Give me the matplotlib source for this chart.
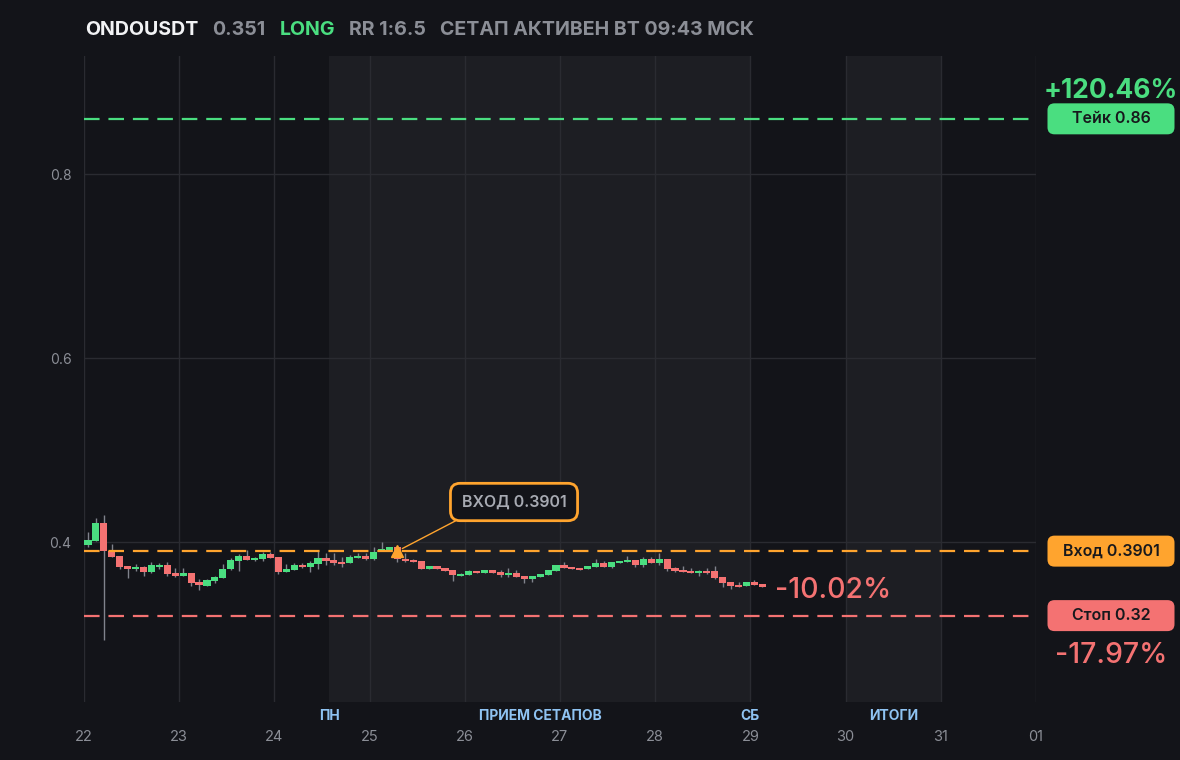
import matplotlib
matplotlib.use("Agg")
import matplotlib.pyplot as plt
from matplotlib.patches import FancyBboxPatch, Rectangle
from matplotlib.transforms import IdentityTransform, blended_transform_factory

# ---------------- data ----------------
symbol = "ONDOUSDT"
side = "LONG"
rr_text = "RR 1:6.5"
status_text = "СЕТАП АКТИВЕН ВТ 09:43 МСК"

first_day = 22
candle_hours = 2

day_ticks = [22, 23, 24, 25, 26, 27, 28, 29, 30, 31, 32]
day_labels = ["22", "23", "24", "25", "26", "27", "28", "29", "30", "31", "01"]
y_ticks = [0.4, 0.6, 0.8]

opens = [0.397, 0.4014, 0.4203, 0.3905, 0.3848, 0.374, 0.371, 0.3728, 0.3674, 0.3733,
         0.375, 0.3663, 0.3634, 0.3663, 0.3565, 0.3525, 0.3576, 0.3612, 0.3703, 0.3797,
         0.3848, 0.3808, 0.3819, 0.387, 0.3837, 0.3674, 0.3696, 0.375, 0.3728, 0.3764,
         0.3826, 0.3804, 0.3783, 0.3772, 0.3826, 0.3848, 0.3819, 0.3899, 0.3916, 0.3946,
         0.3815, 0.3804, 0.3793, 0.371, 0.3739, 0.3717, 0.3696, 0.363, 0.3645, 0.3688,
         0.3666, 0.3696, 0.3674, 0.3638, 0.366, 0.363, 0.3594, 0.3623, 0.3645, 0.3688,
         0.375, 0.3725, 0.3717, 0.371, 0.3732, 0.3772, 0.3732, 0.3772, 0.3783, 0.3804,
         0.3753, 0.3815, 0.3775, 0.3815, 0.372, 0.3699, 0.3688, 0.3666, 0.3688, 0.3688,
         0.3623, 0.3568, 0.3536, 0.3525, 0.3568, 0.3547]
highs = [0.411, 0.426, 0.4293, 0.3978, 0.3848, 0.374, 0.3757, 0.3735, 0.3783, 0.3768,
         0.3783, 0.3714, 0.3714, 0.3663, 0.3598, 0.3601, 0.3634, 0.3764, 0.3826, 0.387,
         0.3913, 0.3841, 0.3891, 0.3891, 0.3837, 0.3761, 0.3775, 0.3775, 0.3797, 0.3902,
         0.3877, 0.3877, 0.3841, 0.3862, 0.3877, 0.3877, 0.3942, 0.4, 0.3938, 0.396,
         0.3877, 0.3815, 0.3793, 0.3739, 0.3739, 0.3717, 0.3696, 0.3666, 0.3699, 0.3688,
         0.3696, 0.3696, 0.3696, 0.3717, 0.3696, 0.363, 0.363, 0.3652, 0.3696, 0.375,
         0.3786, 0.3725, 0.3717, 0.3739, 0.3815, 0.3797, 0.3783, 0.3793, 0.3848, 0.3804,
         0.3837, 0.3837, 0.388, 0.3815, 0.3728, 0.3742, 0.372, 0.3699, 0.3714, 0.3742,
         0.3623, 0.3568, 0.3568, 0.3568, 0.3583, 0.3547]
lows = [0.3946, 0.4014, 0.2935, 0.384, 0.371, 0.3612, 0.3688, 0.3634, 0.3666, 0.3703,
        0.3634, 0.3623, 0.3634, 0.3522, 0.3478, 0.3525, 0.3558, 0.3612, 0.3696, 0.3688,
        0.3808, 0.379, 0.3797, 0.3826, 0.3655, 0.3674, 0.3696, 0.3714, 0.3677, 0.371,
        0.3747, 0.3747, 0.3732, 0.3772, 0.3826, 0.3804, 0.3804, 0.3899, 0.3916, 0.3786,
        0.3783, 0.3783, 0.3707, 0.371, 0.371, 0.3688, 0.3573, 0.363, 0.3645, 0.3666,
        0.3666, 0.3666, 0.3616, 0.3616, 0.3623, 0.3551, 0.3565, 0.3623, 0.3645, 0.3688,
        0.372, 0.3703, 0.3696, 0.371, 0.3732, 0.3732, 0.3714, 0.3772, 0.3783, 0.3732,
        0.3732, 0.3775, 0.3753, 0.3688, 0.3677, 0.3677, 0.3666, 0.3634, 0.3655, 0.3601,
        0.3514, 0.3493, 0.3514, 0.3525, 0.3536, 0.351]
closes = [0.402, 0.4203, 0.3905, 0.384, 0.3732, 0.371, 0.3727, 0.3677, 0.375, 0.375,
          0.3655, 0.3634, 0.3663, 0.3558, 0.3529, 0.3587, 0.362, 0.3703, 0.3804, 0.3848,
          0.3808, 0.3826, 0.387, 0.383, 0.3674, 0.3707, 0.375, 0.3728, 0.3772, 0.3826,
          0.3793, 0.3775, 0.376, 0.3833, 0.3848, 0.3819, 0.3891, 0.3924, 0.3946, 0.382,
          0.3793, 0.3783, 0.3707, 0.3739, 0.371, 0.3688, 0.3645, 0.3655, 0.3688, 0.3666,
          0.3696, 0.3666, 0.3638, 0.3666, 0.3623, 0.3594, 0.363, 0.3652, 0.3696, 0.375,
          0.372, 0.3703, 0.3696, 0.3739, 0.3772, 0.3732, 0.3783, 0.3793, 0.3804, 0.3753,
          0.3815, 0.3775, 0.3815, 0.371, 0.3688, 0.3677, 0.3666, 0.3688, 0.3666, 0.3612,
          0.3558, 0.3525, 0.3514, 0.3568, 0.3536, 0.351]

entry_price = 0.3901
take_price = 0.86
stop_price = 0.32
entry_index = 39

shaded_sessions = [(24.575, 29.0), (30.0, 31.0)]
session_names = ["ПН", "ПРИЕМ СЕТАПОВ", "СБ", "ИТОГИ"]
session_name_x = [24.575, 26.79, 29.0, 30.5]

# ---------------- style ----------------
BG = "#131419"
SHADE = "#1d1e23"
GRID = "#2a2b31"
GREEN = "#4ade80"
RED = "#f47272"
ORANGE = "#ffa42e"
WICK = "#80838c"
TICK = "#8b8e96"
BLUE = "#8fc3f2"
FONT = ["Inter", "DejaVu Sans"]

plt.rcParams["font.family"] = FONT

W, H = 1180, 760
fig = plt.figure(figsize=(W / 100, H / 100), dpi=100, facecolor=BG)
ax = fig.add_axes([84 / W, 58 / H, 952 / W, 646 / H], facecolor=BG)
ax.set_xlim(22, 32)
ax.set_ylim(0.2261, 0.9283)

for s, e in shaded_sessions:
    ax.axvspan(s, e, color=SHADE, lw=0, zorder=0)

for d in day_ticks:
    ax.axvline(d, color=GRID, lw=1, zorder=1)
for yv in y_ticks:
    ax.axhline(yv, color=GRID, lw=1, zorder=1)

# candles
step = candle_hours / 24.0
width = step * 0.9
for i, (o, h, l, c) in enumerate(zip(opens, highs, lows, closes)):
    t = first_day + (i + 0.5) * step
    col = GREEN if c >= o else RED
    ax.vlines(t, l, h, color=WICK, lw=1, zorder=3)
    bottom = min(o, c)
    height = max(abs(c - o), 0.0022)
    ax.add_patch(Rectangle((t - width / 2, bottom), width, height,
                           facecolor=col, edgecolor="none", zorder=4))

# level lines
ax.axhline(take_price, color=GREEN, lw=1.6, ls=(0, (7, 4)), zorder=5)
ax.axhline(entry_price, color=ORANGE, lw=1.6, ls=(0, (7, 4)), zorder=5)
ax.axhline(stop_price, color=RED, lw=1.6, ls=(0, (7, 4)), zorder=5)

# entry marker + callout
t_entry = first_day + (entry_index + 0.5) * step
ax.plot([t_entry], [entry_price], marker="^", ms=9, color=ORANGE, zorder=7, lw=0)
ax.annotate(f"ВХОД {entry_price:.4f}", xy=(t_entry, entry_price),
            xytext=(26.517, 0.4435), textcoords="data",
            ha="center", va="center", fontsize=11.5, fontweight="semibold", color="#a7aab2",
            bbox=dict(boxstyle="round,pad=0.7,rounding_size=0.6", fc=BG, ec=ORANGE, lw=2),
            arrowprops=dict(arrowstyle="-", color=ORANGE, lw=1, relpos=(0.15, 0.0),
                            shrinkA=0, shrinkB=4), zorder=8)

# last price percentage
last_t = first_day + (len(closes) - 0.5) * step
last_pct = (closes[-1] - entry_price) / entry_price * 100
ax.annotate(f"{last_pct:.2f}%", xy=(last_t, closes[-1]), xytext=(13, -3),
            textcoords="offset pixels", ha="left", va="center",
            fontsize=20.5, fontweight="medium", color=RED, zorder=8)

# axes styling
for sp in ax.spines.values():
    sp.set_visible(False)
ax.set_xticks(day_ticks)
ax.set_xticklabels(day_labels)
ax.set_yticks(y_ticks)
ax.set_yticklabels([f"{v:.1f}" for v in y_ticks])
ax.tick_params(axis="x", length=0, pad=20, labelsize=10.5, labelcolor=TICK)
ax.tick_params(axis="y", length=0, pad=9, labelsize=10, labelcolor=TICK)
for lbl in ax.get_xticklabels() + ax.get_yticklabels():
    lbl.set_fontfamily(FONT)

trans_xa = blended_transform_factory(ax.transData, ax.transAxes)
for name, xv in zip(session_names, session_name_x):
    ax.text(xv, -14 / 646, name, transform=trans_xa, ha="center", va="center",
            fontsize=10, fontweight="bold", color=BLUE, clip_on=False)

# right-side level tags
fig.canvas.draw()
box_w, box_h = 127, 31
box_cx = 1111
tags = [(take_price, f"Тейк {take_price:.2f}", GREEN),
        (entry_price, f"Вход {entry_price:.4f}", ORANGE),
        (stop_price, f"Стоп {stop_price:.2f}", RED)]
for val, label, col in tags:
    ypix = ax.transData.transform((22, val))[1]
    patch = FancyBboxPatch((box_cx - box_w / 2, ypix - box_h / 2), box_w, box_h,
                           boxstyle="round,pad=0,rounding_size=7",
                           fc=col, ec="none", transform=IdentityTransform())
    fig.patches.append(patch)
    patch.set_figure(fig)
    fig.text(box_cx / W, ypix / H, label, ha="center", va="center",
             fontsize=11.5, fontweight="semibold", color="#17181c")

take_pct = (take_price - entry_price) / entry_price * 100
stop_pct = (stop_price - entry_price) / entry_price * 100
y_take = ax.transData.transform((22, take_price))[1]
y_stop = ax.transData.transform((22, stop_price))[1]
fig.text(box_cx / W, (y_take + 28) / H, f"+{take_pct:.2f}%", ha="center", va="center",
         fontsize=19, fontweight="bold", color=GREEN)
fig.text(box_cx / W, (y_stop - 40) / H, f"{stop_pct:.2f}%", ha="center", va="center",
         fontsize=20.5, fontweight="medium", color=RED)

# header
renderer = fig.canvas.get_renderer()
parts = [(symbol, "#f2f3f5"), (f"{closes[-1]:.3f}", "#8b8e96"), (side, GREEN),
         (rr_text, "#8b8e96"), (status_text, "#8b8e96")]
x = 85
for txt, col in parts:
    t = fig.text(x / W, 1 - 30 / H, txt, ha="left", va="center", fontsize=14.1,
                 fontweight="bold", color=col)
    bb = t.get_window_extent(renderer)
    x += bb.width + 14

fig.savefig("out.png", dpi=100, facecolor=BG)
